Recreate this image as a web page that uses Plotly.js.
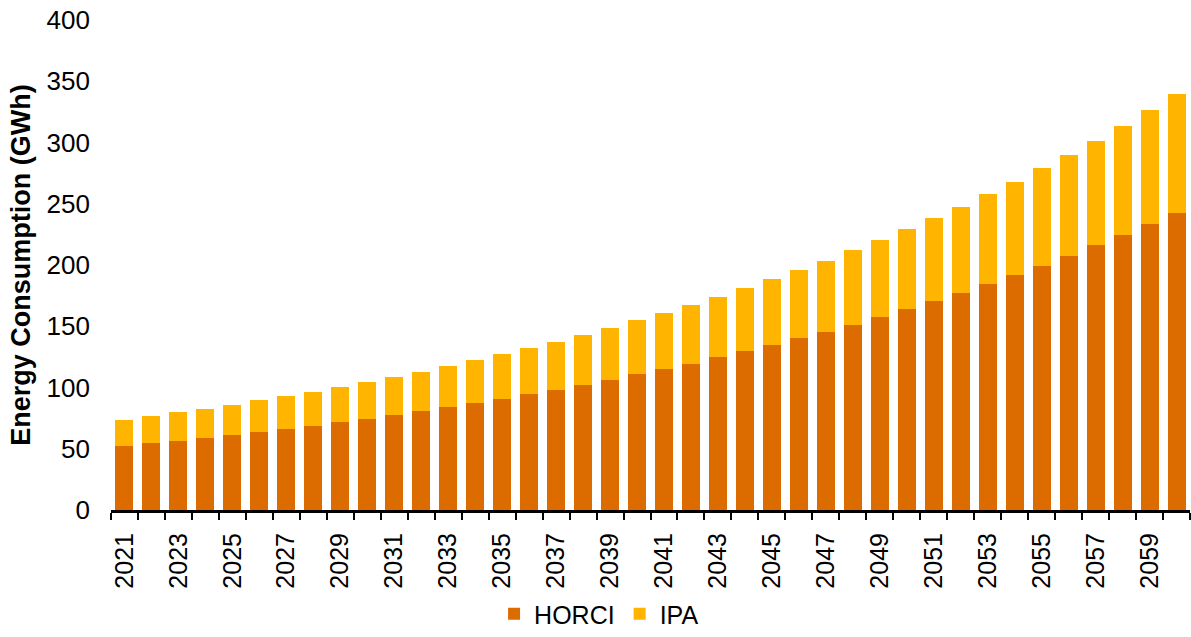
<!DOCTYPE html>
<html>
<head>
<meta charset="utf-8">
<script src="https://cdn.plot.ly/plotly-3.0.1.min.js"></script>
<style>html,body{margin:0;padding:0;background:#fff;}#chart{width:1191px;height:637px;}</style>
</head>
<body>
<div id="chart"></div>
<script>
var years = ["2021","2022","2023","2024","2025","2026","2027","2028","2029","2030",
             "2031","2032","2033","2034","2035","2036","2037","2038","2039","2040",
             "2041","2042","2043","2044","2045","2046","2047","2048","2049","2050",
             "2051","2052","2053","2054","2055","2056","2057","2058","2059","2060"];
var horci = [52.5,54.7,56.6,59.0,61.5,63.9,66.4,68.8,72.1,74.5,
             77.8,81.1,84.3,87.6,90.9,94.7,98.2,102.3,106.4,110.7,
             115.4,119.5,124.6,129.5,134.9,140.1,145.6,151.4,157.6,164.1,
             170.9,177.4,184.8,192.1,199.4,207.6,216.1,224.8,233.7,242.7];
var ipa = [21.0,21.8,23.1,23.7,24.2,25.6,26.4,27.5,28.3,30.0,
           30.8,31.8,33.3,34.8,36.2,37.5,39.2,40.6,42.4,44.1,
           45.7,47.8,49.5,51.7,53.7,55.8,57.9,60.6,62.8,65.0,
           67.5,70.2,72.9,75.9,79.5,82.5,85.4,88.9,92.6,96.6];
var tickLabels = years.map(function(y, i){ return i % 2 === 0 ? y : ""; });

var FONT = "Liberation Sans, Arial, sans-serif";

var data = [
  {type:"bar", name:"HORCI", x:years, y:horci, marker:{color:"#DC6B00"}},
  {type:"bar", name:"IPA", x:years, y:ipa, marker:{color:"#FFB400"}}
];

var layout = {
  width:1191, height:637,
  margin:{l:111, r:1, t:20, b:127},
  paper_bgcolor:"#fff", plot_bgcolor:"#fff",
  barmode:"stack", bargap:0.333,
  font:{family:FONT, size:25, color:"#000"},
  showlegend:true,
  legend:{orientation:"h", traceorder:"normal", xref:"container", yref:"container", x:0.503, xanchor:"center",
          y:0, yanchor:"bottom", font:{family:FONT, size:25, color:"#000"},
          itemwidth:30, tracegroupgap:0},
  xaxis:{type:"category", range:[-0.5,39.5], tickmode:"array", tickvals:years, ticktext:tickLabels,
         tickson:"boundaries", ticks:"outside", ticklen:7, tickwidth:2, tickcolor:"#000",
         showline:true, linecolor:"#000", linewidth:3, showgrid:false, zeroline:false,
         tickangle:-90, ticklabelstandoff:10, tickfont:{family:FONT, size:25, color:"#000"}},
  yaxis:{range:[0,400], dtick:50, tick0:0, showgrid:false, zeroline:false, showline:false,
         ticks:"", ticklabelstandoff:20, tickfont:{family:FONT, size:26, color:"#000"},
         title:{text:"Energy Consumption (GWh)", font:{family:FONT, size:27, color:"#000", weight:"bold"}, standoff:8}}
};

Plotly.newPlot("chart", data, layout, {displayModeBar:false, staticPlot:true});
</script>
</body>
</html>
